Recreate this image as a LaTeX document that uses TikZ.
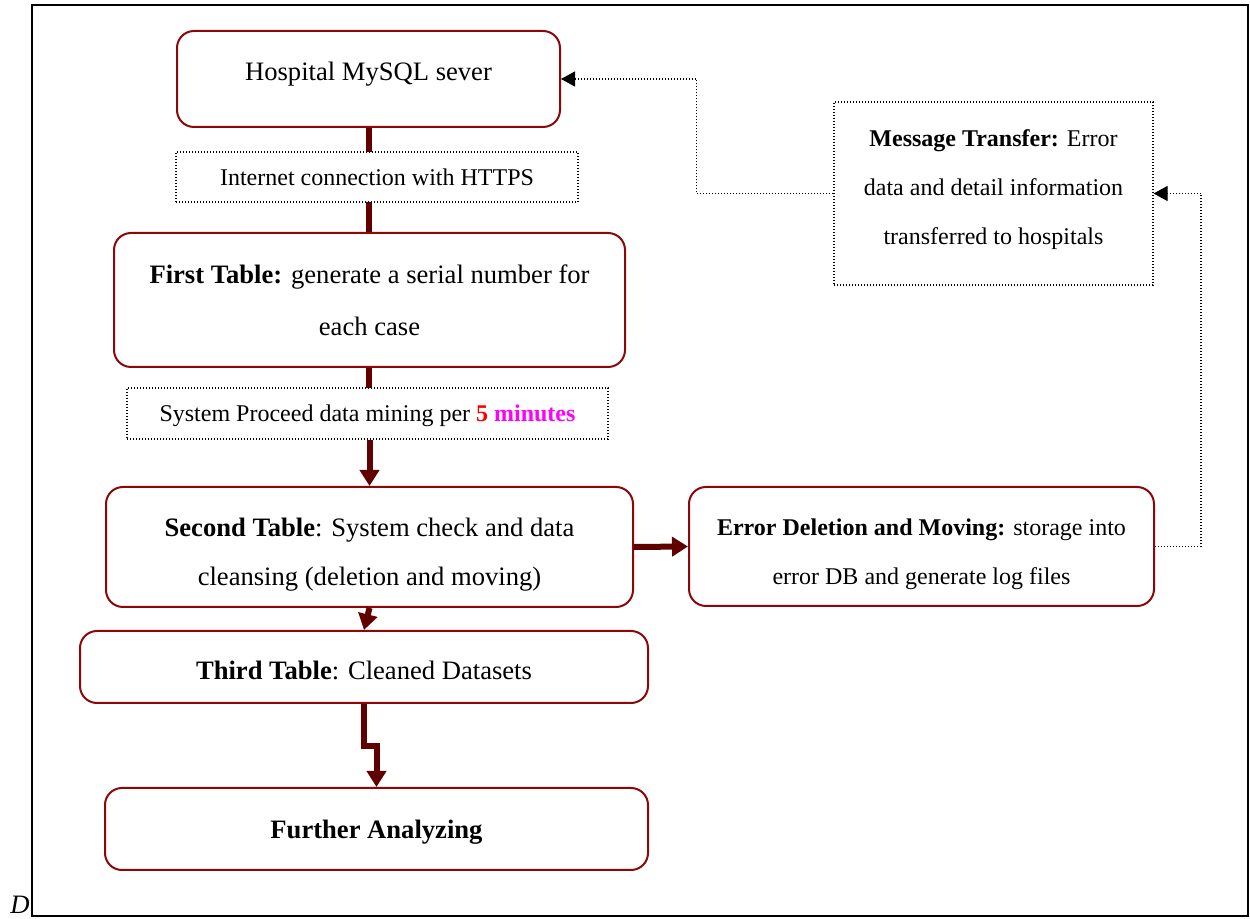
\documentclass[tikz,border=0pt]{standalone}
\usepackage{fontspec}
\setmainfont{Liberation Serif}
\usetikzlibrary{arrows.meta}
\definecolor{boxred}{RGB}{140,8,8}
\definecolor{connred}{RGB}{96,0,0}
\definecolor{mag}{RGB}{255,0,255}
\newcommand{\fsbig}{\fontsize{13.3}{25}\selectfont}
\newcommand{\fssmall}{\fontsize{12}{24.5}\selectfont}
\tikzset{
  rbox/.style={draw=boxred, line width=1pt, rounded corners=8.5pt, fill=white, inner sep=0pt},
  dbox/.style={draw=black, dash pattern=on 0.5pt off 1pt, line width=0.6pt, fill=white, inner sep=0pt},
  txt/.style={inner sep=0pt, align=center, font=\fsbig},
  stxt/.style={inner sep=0pt, align=center, font=\fssmall},
  conn/.style={draw=connred, line width=3pt},
  arr/.style={conn, -{Triangle[length=8pt,width=9.5pt]}},
  darr/.style={draw=black, dash pattern=on 0.5pt off 1pt, line width=0.6pt, -{Triangle[length=7pt,width=7.5pt]}}
}
\begin{document}
\begin{tikzpicture}[x=0.5pt,y=-0.5pt]
\useasboundingbox (0,0) rectangle (1250,919);
\draw[line width=1pt] (32,5) rectangle (1248,916);
\node[anchor=base west, font=\fsbig\itshape, inner sep=0pt] (dlab) at (10,914) {D};

% connectors behind boxes
\draw[conn] (368.5,127) -- (368.5,233);
\draw[conn] (368.5,367) -- (368.5,390);

\node[rbox, minimum width=191.5pt, minimum height=48pt] (hosp) at (368.5,79) {};
\node[txt] (hosptxt) at ([yshift=2.5pt]hosp.center) {Hospital MySQL sever};

\node[dbox, minimum width=201pt, minimum height=25pt] (inet) at (377,177) {};
\node[stxt] (inettxt) at (inet.center) {Internet connection with HTTPS};

\node[rbox, minimum width=255.5pt, minimum height=67pt] (first) at (369.5,300) {};
\node[txt, font=\fontsize{13.3}{26}\selectfont] (firsttxt) at (first.center) {\textbf{First Table:} generate a serial number for\\each case};

\node[dbox, minimum width=240.5pt, minimum height=25.5pt] (sys) at (367.5,413.5) {};
\node[stxt] (systxt) at ([yshift=-1pt]sys.center) {System Proceed data mining per \textbf{\textcolor{red}{5} \textcolor{mag}{minutes}}};

\node[rbox, minimum width=263.5pt, minimum height=60pt] (second) at (369.5,547) {};
\node[txt, font=\fontsize{13.3}{24.5}\selectfont] (secondtxt) at ([yshift=-4pt]second.center) {\textbf{Second Table}: System check and data\\cleansing (deletion and moving)};

\node[rbox, minimum width=284pt, minimum height=36pt] (third) at (364,667) {};
\node[txt] (thirdtxt) at ([yshift=-1.5pt]third.center) {\textbf{Third Table}: Cleaned Datasets};

\node[rbox, minimum width=271.5pt, minimum height=41pt] (further) at (376.5,829) {};
\node[txt] (furthertxt) at ([yshift=-1.5pt]further.center) {\textbf{Further Analyzing}};

\node[rbox, minimum width=232.5pt, minimum height=59.5pt] (err) at (921.5,546.5) {};
\node[stxt] (errtxt) at ([yshift=-4pt]err.center) {\textbf{Error Deletion and Moving:} storage into\\error DB and generate log files};

\node[dbox, minimum width=159.5pt, minimum height=91.5pt] (msg) at (993.5,193.5) {};
\node[stxt] (msgtxt) at ([yshift=2pt]msg.center) {\textbf{Message Transfer:} Error\\data and detail information\\transferred to hospitals};

\draw[arr] (sys.south -| second.north) -- (second.north);
\draw[arr] (second.south) -- (third.north);
\draw[arr] (third.south) -- ++(0,42) -| (further.north);
\draw[arr] (second.east) -- (err.west);
\draw[darr] (err.east) -- ++(46,0) |- (msg.east);
\draw[darr] (msg.west) -- ++(-137,0) |- (hosp.east);
\end{tikzpicture}
\end{document}
